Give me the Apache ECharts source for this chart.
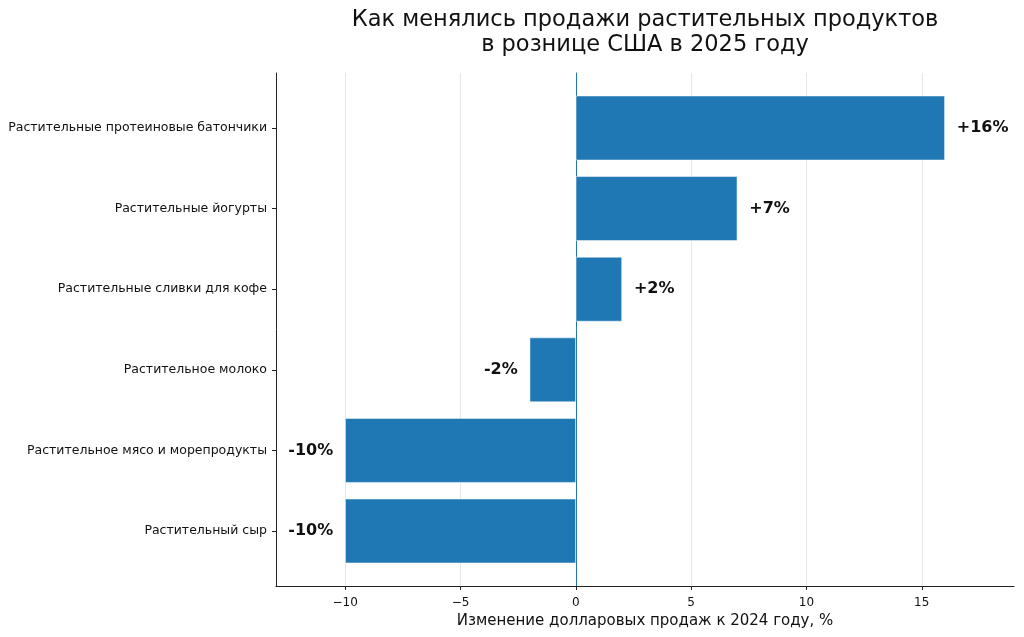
<!DOCTYPE html>
<html lang="ru">
<head>
<meta charset="UTF-8">
<title>Продажи растительных продуктов</title>
<script src="https://cdn.jsdelivr.net/npm/echarts@6/dist/echarts.min.js"></script>
<style>
  html, body { margin: 0; padding: 0; background: #fff; }
  #main { width: 1024px; height: 637px; }
</style>
</head>
<body>
<div id="main"></div>
<script>
// данные
var categories = [
  'Растительные протеиновые батончики',
  'Растительные йогурты',
  'Растительные сливки для кофе',
  'Растительное молоко',
  'Растительное мясо и морепродукты',
  'Растительный сыр'
];
var changes = [16, 7, 2, -2, -10, -10];
var xTicks = [-10, -5, 0, 5, 10, 15];

var FONT = '"DejaVu Sans", sans-serif';
var barColor = '#1f77b4';

var chart = echarts.init(document.getElementById('main'));

var barData = changes.map(function (v) {
  return {
    value: v,
    label: { position: v >= 0 ? 'right' : 'left' }
  };
});

var option = {
  animation: false,
  title: {
    text: 'Как менялись продажи растительных продуктов\nв рознице США в 2025 году',
    left: 640,
    top: 3,
    textAlign: 'center',
    textStyle: { fontFamily: FONT, fontSize: 22.5, fontWeight: 'normal', color: '#111', lineHeight: 25 }
  },
  grid: [
    // бары
    { left: 276, right: 10, top: 87.7, bottom: 65.7 },
    // рамка
    { left: 276, right: 10, top: 73, bottom: 51 }
  ],
  xAxis: [
    { gridIndex: 0, type: 'value', min: -13, max: 19, show: false },
    {
      gridIndex: 1, type: 'value', min: -13, max: 19,
      axisLine: { show: true, onZero: false, lineStyle: { color: '#222', width: 1 } },
      axisTick: { show: true, length: 4, customValues: xTicks, lineStyle: { color: '#222' } },
      axisLabel: {
        customValues: xTicks, margin: 11, fontFamily: FONT, fontSize: 12, color: '#111',
        formatter: function (v) { return String(v).replace('-', '\u2212'); }
      },
      splitLine: { show: true, lineStyle: { color: '#e6e6e6', width: 1 } },
      name: 'Изменение долларовых продаж к 2024 году, %',
      nameLocation: 'middle',
      nameGap: 27,
      nameTextStyle: { fontFamily: FONT, fontSize: 15, color: '#111' }
    }
  ],
  yAxis: [
    {
      gridIndex: 0, type: 'category', data: categories, inverse: true,
      axisLine: { show: false, onZero: false },
      axisTick: { show: true, alignWithLabel: true, length: 4, lineStyle: { color: '#222' } },
      axisLabel: { margin: 9, fontFamily: FONT, fontSize: 12.5, color: '#111' },
      splitLine: { show: false }
    },
    {
      gridIndex: 1, type: 'value', min: 0, max: 1,
      axisLine: { show: true, onZero: false, lineStyle: { color: '#222', width: 1 } },
      axisTick: { show: false }, axisLabel: { show: false }, splitLine: { show: false }
    },
    {
      gridIndex: 1, type: 'value', min: 0, max: 1,
      axisLine: { show: true, onZero: true, lineStyle: { color: barColor, width: 1 } },
      axisTick: { show: false }, axisLabel: { show: false }, splitLine: { show: false }
    }
  ],
  series: [
    {
      type: 'bar',
      xAxisIndex: 0,
      yAxisIndex: 0,
      data: barData,
      barWidth: 64.5,
      itemStyle: { color: barColor, borderColor: '#ffffff', borderWidth: 0.5 },
      label: {
        show: true,
        distance: 12,
        fontFamily: FONT,
        fontSize: 16,
        fontWeight: 'bold',
        color: '#111',
        formatter: function (p) { return (p.value > 0 ? '+' : '') + p.value + '%'; }
      },
      z: 3
    }
  ]
};

chart.setOption(option);
</script>
</body>
</html>
